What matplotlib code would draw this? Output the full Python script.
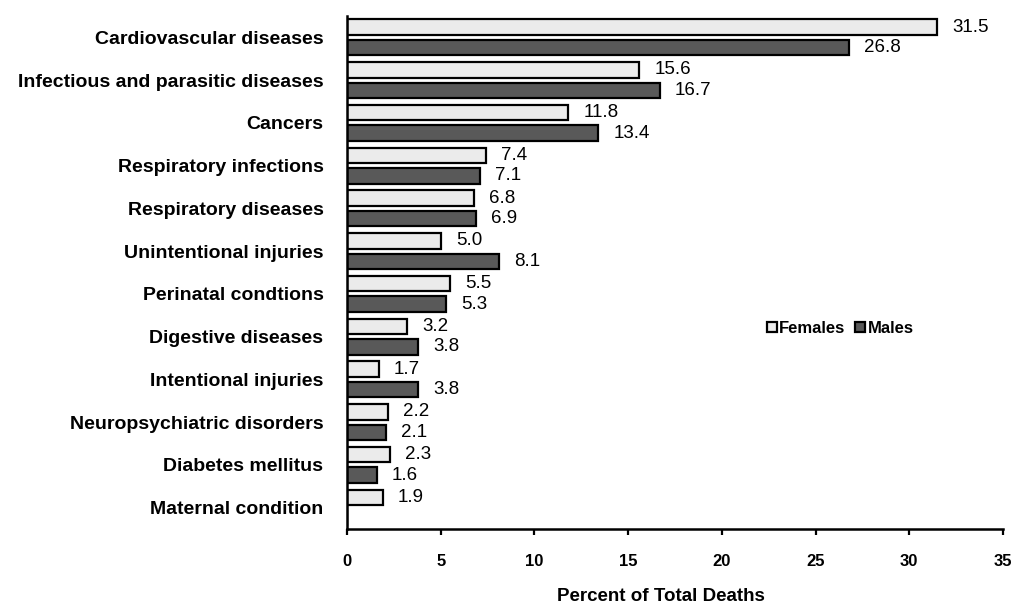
import matplotlib
matplotlib.use("Agg")
import matplotlib.pyplot as plt
from matplotlib.patches import Patch
import numpy as np

plt.rcParams['font.family'] = ['Liberation Sans', 'DejaVu Sans']

categories = [
    "Cardiovascular diseases",
    "Infectious and parasitic diseases",
    "Cancers",
    "Respiratory infections",
    "Respiratory diseases",
    "Unintentional injuries",
    "Perinatal condtions",
    "Digestive diseases",
    "Intentional injuries",
    "Neuropsychiatric disorders",
    "Diabetes mellitus",
    "Maternal condition",
]
females = [31.5, 15.6, 11.8, 7.4, 6.8, 5.0, 5.5, 3.2, 1.7, 2.2, 2.3, 1.9]
males = [26.8, 16.7, 13.4, 7.1, 6.9, 8.1, 5.3, 3.8, 3.8, 2.1, 1.6, None]
x_ticks = [0, 5, 10, 15, 20, 25, 30, 35]

female_color = "#ebebeb"
male_color = "#595959"

fig = plt.figure(figsize=(10.13, 6.06), dpi=100)
ax = fig.add_axes([347 / 1013, 1 - 529 / 606, 656 / 1013, 513 / 606])

y = np.arange(len(categories))
off = 0.24
h = 0.36

f_vals = np.array(females, dtype=float)
m_vals = np.array([v if v is not None else 0.0 for v in males], dtype=float)

ax.barh(y - off, f_vals, height=h, color=female_color, edgecolor="black", linewidth=1.6)
ax.barh(y + off, m_vals, height=h, color=male_color, edgecolor="black", linewidth=1.6)

for i, v in enumerate(females):
    ax.text(v + 0.8, i - off, f"{v:.1f}", va="center", ha="left", fontsize=13.5)
for i, v in enumerate(males):
    if v is None:
        continue
    ax.text(v + 0.8, i + off, f"{v:.1f}", va="center", ha="left", fontsize=13.5)

ax.set_xlim(0, 35)
ax.set_ylim(len(categories) - 0.5, -0.5)
ax.set_xticks(x_ticks)
ax.set_xticklabels([str(t) for t in x_ticks], fontsize=12, fontweight="bold")
ax.set_yticks(y)
ax.set_yticklabels(categories, fontsize=14, fontweight="bold")
ax.tick_params(axis="x", direction="out", length=4, width=1.6, pad=14)
ax.tick_params(axis="y", length=0, pad=17)

for s in ("top", "right"):
    ax.spines[s].set_visible(False)
for s in ("left", "bottom"):
    ax.spines[s].set_linewidth(1.8)
    ax.spines[s].set_color("black")

ax.set_xlabel("Percent of Total Deaths", fontsize=13.5, fontweight="bold")
ax.xaxis.set_label_coords(0.479, -0.131)
ax.xaxis.label.set_verticalalignment("center")

handles = [Patch(facecolor=female_color, edgecolor="black", linewidth=1.6, label="Females"),
           Patch(facecolor=male_color, edgecolor="black", linewidth=1.6, label="Males")]
ax.legend(handles=handles, ncol=2, frameon=False, loc="center",
          bbox_to_anchor=(0.752, 0.391), handlelength=0.6, handleheight=0.6,
          handletextpad=0.15, columnspacing=0.6, prop={"size": 12, "weight": "bold"})

fig.savefig("out.png", dpi=100)
